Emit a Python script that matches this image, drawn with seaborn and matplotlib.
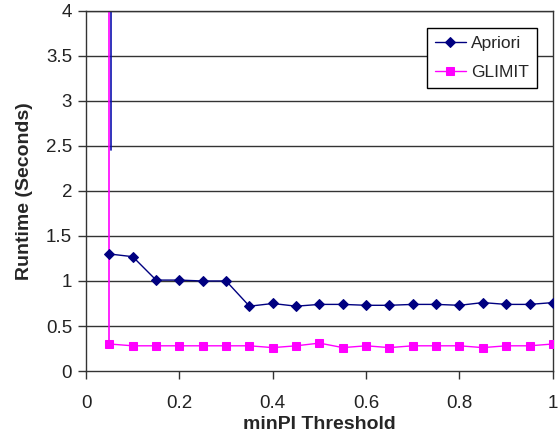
import matplotlib
matplotlib.use('Agg')
import matplotlib.pyplot as plt
import matplotlib.transforms as mtransforms
import seaborn as sns

# minPI thresholds
thresholds = [0.05, 0.10, 0.15, 0.20, 0.25, 0.30, 0.35, 0.40, 0.45, 0.50,
              0.55, 0.60, 0.65, 0.70, 0.75, 0.80, 0.85, 0.90, 0.95, 1.00]

# runtimes in seconds
apriori = [1.30, 1.27, 1.01, 1.01, 1.00, 1.00, 0.72, 0.75, 0.72, 0.74,
           0.74, 0.73, 0.73, 0.74, 0.74, 0.73, 0.76, 0.74, 0.74, 0.76]
glimit = [0.30, 0.28, 0.28, 0.28, 0.28, 0.28, 0.28, 0.26, 0.28, 0.31,
          0.26, 0.28, 0.26, 0.28, 0.28, 0.28, 0.26, 0.28, 0.28, 0.30]

# off-scale spikes at the first threshold
spike_x = [0.05, 0.05]
glimit_spike_y = [0.30, 4.5]
apriori_spike_y = [2.45, 4.5]

x_ticks = [0, 0.2, 0.4, 0.6, 0.8, 1]
x_ticklabels = ['0', '0.2', '0.4', '0.6', '0.8', '1']
y_ticks = [0, 0.5, 1, 1.5, 2, 2.5, 3, 3.5, 4]
y_ticklabels = ['0', '0.5', '1', '1.5', '2', '2.5', '3', '3.5', '4']

sns.set_style('white')
plt.rcParams['font.family'] = ['Liberation Sans', 'DejaVu Sans']

fig = plt.figure(figsize=(5.59, 4.37), dpi=100)
ax = fig.add_axes([0.154, 0.151, 0.835, 0.824])

for y in y_ticks[1:]:
    ax.axhline(y, color='#333333', lw=1.0, zorder=1)

ax.plot(spike_x, glimit_spike_y, color='#ff00ff', lw=1.2, zorder=2)
shifted = mtransforms.offset_copy(ax.transData, fig=fig, x=1.2, y=0, units='dots')
ax.plot(spike_x, apriori_spike_y, color='#1010b0', lw=1.2, zorder=2,
        transform=shifted)

sns.lineplot(x=thresholds, y=apriori, ax=ax, color='#000080', lw=1.0,
             marker='D', markersize=5.5, markeredgecolor='#000080',
             label='Apriori', zorder=3)
sns.lineplot(x=thresholds, y=glimit, ax=ax, color='#ff00ff', lw=1.0,
             marker='s', markersize=6, markeredgecolor='#ff00ff',
             label='GLIMIT', zorder=3)

ax.set_xlim(0, 1)
ax.set_ylim(0, 4)
ax.set_xticks(x_ticks)
ax.set_xticklabels(x_ticklabels)
ax.set_yticks(y_ticks)
ax.set_yticklabels(y_ticklabels)
ax.tick_params(axis='both', labelsize=13.5, colors='#333333', length=6,
               width=1, direction='out', bottom=True, left=True, pad=4)
ax.tick_params(axis='x', pad=11)
for lab in ax.get_xticklabels() + ax.get_yticklabels():
    lab.set_color('#222222')

for side in ['left', 'bottom', 'right', 'top']:
    ax.spines[side].set_color('#333333')
    ax.spines[side].set_linewidth(1.0)

ax.set_xlabel('minPI Threshold', fontsize=14, fontweight='bold', labelpad=3)
ax.set_ylabel('Runtime (Seconds)', fontsize=14, fontweight='bold', labelpad=9)

leg = ax.legend(loc='upper right', bbox_to_anchor=(0.966, 0.953),
                borderaxespad=0, fontsize=12.5, frameon=True, fancybox=False,
                handlelength=1.8, handletextpad=0.3, labelspacing=0.8,
                borderpad=0.45)
leg.get_frame().set_edgecolor('black')
leg.get_frame().set_linewidth(1.0)
leg.get_frame().set_alpha(1)

fig.savefig('out.png', dpi=100)
